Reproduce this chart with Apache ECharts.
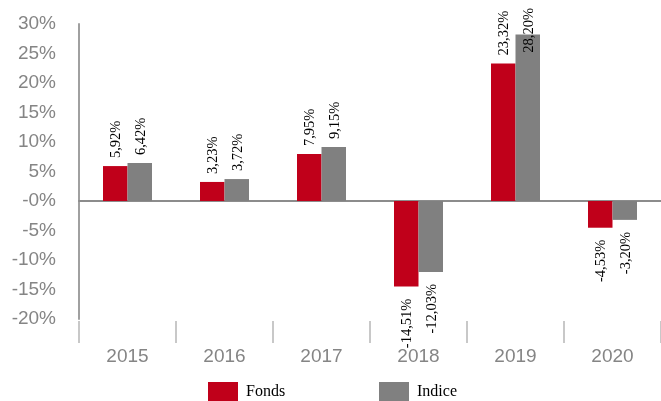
<!DOCTYPE html>
<html>
<head>
<meta charset="UTF-8">
<title>Fonds vs Indice</title>
<script src="https://cdn.jsdelivr.net/npm/echarts@6/dist/echarts.min.js"></script>
<style>
  html, body { margin: 0; padding: 0; background: #fff; }
  #chart { width: 661px; height: 401px; }
</style>
</head>
<body>
<div id="chart"></div>
<script>
var years = ['2015', '2016', '2017', '2018', '2019', '2020'];
var fonds = [5.92, 3.23, 7.95, -14.51, 23.32, -4.53];
var indice = [6.42, 3.72, 9.15, -12.03, 28.20, -3.20];
var yTicks = ['-20%', '-15%', '-10%', '-5%', '-0%', '5%', '10%', '15%', '20%', '25%', '30%'];

var chart = echarts.init(document.getElementById('chart'));

function fmt(v) {
  return v.toFixed(2).replace('.', ',') + '%';
}

// labels stand on the bar end, rotated; the tallest one is pulled back inside the frame like Excel does
function items(arr) {
  return arr.map(function (v) {
    var lbl;
    if (v >= 0) {
      var top = 201 - v * 5.89;
      var d = 8;
      if (top - d - 47 < 7) d = top - 53;
      lbl = { position: 'top', align: 'left', distance: d };
    } else {
      lbl = { position: 'bottom', align: 'right', distance: 12 };
    }
    return { value: v, label: lbl };
  });
}

var lblStyle = {
  show: true,
  rotate: 90,
  verticalAlign: 'middle',
  color: '#000',
  fontFamily: 'Liberation Serif',
  fontSize: 14.5,
  offset: [0, 1],
  formatter: function (p) { return fmt(p.value); }
};

var legendText = { fontFamily: 'Liberation Serif', fontSize: 16, color: '#000', padding: [3, 0, 0, 3] };

chart.setOption({
  animation: false,
  grid: { left: 79, width: 584, top: 24, bottom: 82 },
  legend: [
    {
      data: ['Fonds'], left: 208, top: 382, padding: 0, itemWidth: 30, itemHeight: 20,
      icon: 'rect', textStyle: legendText
    },
    {
      data: ['Indice'], left: 379, top: 382, padding: 0, itemWidth: 30, itemHeight: 20,
      icon: 'rect', textStyle: legendText
    }
  ],
  xAxis: [
    {
      type: 'category', data: years, position: 'bottom',
      axisLine: { show: true, onZero: true, lineStyle: { color: '#8c8c8c', width: 2 } },
      axisTick: { show: false }, axisLabel: { show: false }
    },
    {
      type: 'category', data: years, position: 'bottom', offset: 2,
      axisLine: { show: false, onZero: false },
      axisTick: { show: true, length: 22, lineStyle: { color: '#c8c8c8', width: 2 } },
      axisLabel: { margin: 26, color: '#858585', fontFamily: 'Liberation Sans', fontSize: 19 }
    }
  ],
  yAxis: {
    type: 'value', min: -20, max: 30, interval: 5,
    splitLine: { show: false },
    axisTick: { show: false },
    axisLine: { show: true, lineStyle: { color: '#a0a0a0', width: 2 } },
    axisLabel: {
      margin: 23, color: '#858585', fontFamily: 'Liberation Sans', fontSize: 19,
      formatter: function (v) { return yTicks[Math.round((v + 20) / 5)]; }
    }
  },
  series: [
    {
      name: 'Fonds', type: 'bar', xAxisIndex: 0, data: items(fonds),
      barWidth: 24.5, barGap: '0%', itemStyle: { color: '#c0001a' }, label: lblStyle
    },
    {
      name: 'Indice', type: 'bar', xAxisIndex: 0, data: items(indice),
      barWidth: 24.5, barGap: '0%', itemStyle: { color: '#808080' }, label: lblStyle
    }
  ]
});
</script>
</body>
</html>
